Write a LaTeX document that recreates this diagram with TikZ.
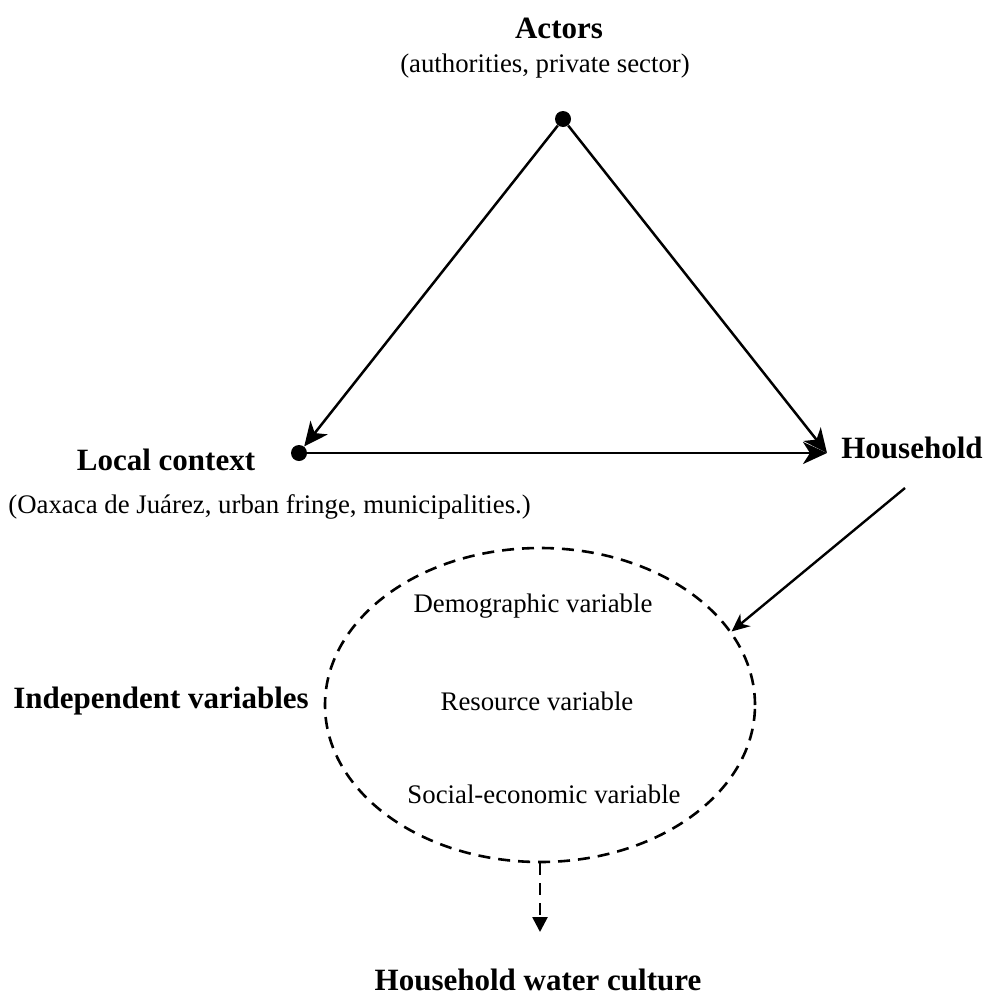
\documentclass[tikz,border=0pt]{standalone}
\usepackage{fontspec}
\setmainfont{Liberation Serif}
\usetikzlibrary{positioning, arrows.meta, shapes.geometric}
\tikzset{
  headlbl/.style={font=\fontsize{15.5}{18}\selectfont\bfseries, inner sep=0pt, anchor=base},
  notelbl/.style={font=\fontsize{13.4}{16}\selectfont, inner sep=0pt, anchor=base},
  dotnode/.style={circle, fill=black, inner sep=0pt, minimum size=8pt},
  link/.style={line width=1.25pt, -{Stealth[length=12pt,width=11pt,inset=3.5pt]}},
  dashline/.style={line width=1.3pt, dash pattern=on 6pt off 4pt},
}

\begin{document}
\begin{tikzpicture}[x=0.5pt, y=-0.5pt]
    \useasboundingbox (0,0) rectangle (987,996);

    % labels of the three corners
    \node [headlbl] (actors) at (559,38) {Actors};
    \node [notelbl] (actorsnote) at (545,72) {(authorities, private sector)};
    \node [headlbl] (local) at (166,470) {Local context};
    \node [notelbl, anchor=base west] (localnote) at (8,513) {(Oaxaca de Juárez, urban fringe, municipalities.)};
    \node [headlbl] (household) at (912,458) {Household};

    % corners of the triangle
    \node [dotnode] (topdot) at (563,119) {};
    \node [dotnode] (leftdot) at (299,453) {};
    \coordinate (rightpt) at (827,453);
    \coordinate (hhout) at (905,488);

    \draw [link] (topdot) -- (leftdot);         % actors to local context
    \draw [link] (topdot) -- (rightpt);         % actors to household
    \draw [link] (leftdot) -- (rightpt);        % local context to household

    % the variables
    \node [ellipse, draw, dashline, minimum width=215pt, minimum height=157pt, inner sep=0pt] (vars) at (540,705) {};
    \node [notelbl] (demovar) at (533,612) {Demographic variable};
    \node [notelbl] (resvar) at (537,710) {Resource variable};
    \node [notelbl] (socvar) at (544,803) {Social-economic variable};
    \node [headlbl] (indep) at (161,708) {Independent variables};

    \draw [line width=1.2pt, -{Stealth[length=9pt,width=8pt]}] (hhout) -- (vars.21);   % household to variables

    % outcome
    \node [headlbl] (culture) at (538,990) {Household water culture};
    \coordinate (cultureup) at (540,932);
    \draw [dashline, -{Triangle[length=7.5pt,width=7.5pt]}] (vars.south) -- (cultureup);
\end{tikzpicture}
\end{document}
